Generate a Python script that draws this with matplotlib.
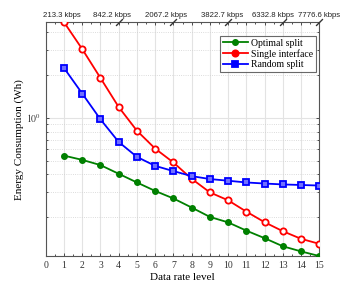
import matplotlib
matplotlib.use("Agg")
import matplotlib.pyplot as plt
import matplotlib.transforms as mtransforms
from matplotlib.ticker import FixedLocator, LogLocator, NullFormatter, MultipleLocator

levels = list(range(1, 16))
optimal = [0.542, 0.506, 0.465, 0.404, 0.351, 0.306, 0.271, 0.234, 0.201, 0.184,
           0.161, 0.1425, 0.125, 0.115, 0.1067]
single = [4.70, 3.04, 1.905, 1.19, 0.811, 0.607, 0.485, 0.3726, 0.299, 0.263,
          0.219, 0.1845, 0.1595, 0.141, 0.130]
random_split = [2.24, 1.48, 0.975, 0.676, 0.531, 0.459, 0.422, 0.389, 0.371, 0.361,
                 0.351, 0.345, 0.340, 0.337, 0.334]
top_levels = [1, 4, 7, 10, 13, 15]
top_labels = ["213.3 kbps", "842.2 kbps", "2067.2 kbps", "3822.7 kbps",
              "6332.8 kbps", "7776.6 kbps"]
break_levels = [4, 7, 10, 13, 15]

serif = ["Liberation Serif", "DejaVu Serif"]
plt.rcParams["font.family"] = serif
plt.rcParams["mathtext.fontset"] = "stix"

fig = plt.figure(figsize=(3.52, 2.88), dpi=100)
ax = fig.add_axes([0.130, 0.111, 0.777, 0.812])

ax.plot(levels, optimal, color="#008000", marker="o", ms=4, lw=1.3,
        mfc="#008000", mec="#008000", label="Optimal split", zorder=3)
ax.plot(levels, single, color="#ff0000", marker="o", ms=4.5, lw=1.3,
        mfc="white", mec="#ff0000", mew=1.3, label="Single interface", zorder=3)
ax.plot(levels, random_split, color="#0000ff", marker="s", ms=4, lw=1.3,
        mfc="#6f6fff", mec="#0000ff", mew=1.3, label="Random split", zorder=3)

ax.set_yscale("log")
ax.set_xlim(0, 15)
ax.set_ylim(0.1067, 4.70)
ax.set_xticks(range(0, 16))
ax.xaxis.set_minor_locator(MultipleLocator(0.5))
ax.yaxis.set_major_locator(FixedLocator([1.0]))
ax.yaxis.set_minor_locator(LogLocator(base=10, subs=range(2, 10)))
ax.yaxis.set_minor_formatter(NullFormatter())
ax.set_yticklabels([r"$10^0$"])

ax.grid(True, which="major", axis="x", color="#e3e3e3", lw=0.8)
ax.grid(True, which="major", axis="y", color="#e3e3e3", lw=0.8)
ax.grid(True, which="minor", axis="y", color="#d0d0d0", lw=0.6, ls=":")
ax.set_axisbelow(True)

ax.tick_params(which="both", direction="in", top=True, right=True,
               labelsize=7, colors="#333333", length=2.5, width=0.6)
ax.tick_params(which="minor", length=1.5)
for s in ax.spines.values():
    s.set_color("#555555")
    s.set_linewidth(0.8)

ax.set_xlabel("Data rate level", fontsize=8, labelpad=2)
ax.set_ylabel("Energy Consumption (Wh)", fontsize=8, labelpad=1)

# top axis labels
sec = ax.secondary_xaxis("top")
sec.set_xticks(top_levels)
sec.set_xticklabels(top_labels, fontsize=5.6, family=["Liberation Sans", "DejaVu Sans"])
sec.tick_params(length=0, pad=2, colors="#222222")
sec.spines["top"].set_visible(False)
offsets = [-1.5, -4.5, -5, -4, -7, 0]
for lab, dx in zip(sec.get_xticklabels(), offsets):
    lab.set_transform(lab.get_transform() + mtransforms.ScaledTranslation(dx / 72, 0, fig.dpi_scale_trans))

# break marks on the top axis
ax.plot(break_levels, [1.0] * len(break_levels), ls="none", marker=(2, 2, -45),
        ms=7, mec="#333333", mew=0.7, transform=ax.get_xaxis_transform(),
        clip_on=False, zorder=5)

leg = ax.legend(loc="upper right", bbox_to_anchor=(0.995, 0.95), fontsize=7,
                frameon=True, fancybox=False, edgecolor="#444444",
                handlelength=2.6, handletextpad=0.3, borderpad=0.3,
                labelspacing=0.15, borderaxespad=0.2)
leg.get_frame().set_linewidth(0.8)
for h in leg.legend_handles:
    h.set_markerfacecolor(h.get_color())

fig.savefig("out.png", dpi=100)
